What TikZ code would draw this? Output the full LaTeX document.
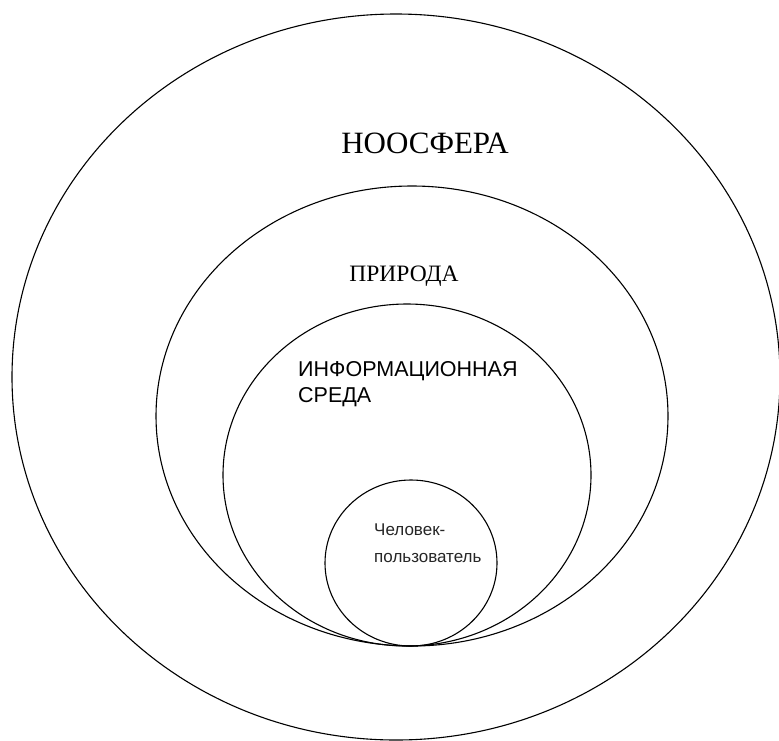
\documentclass[tikz,border=0pt]{standalone}
\usepackage{fontspec}
\setmainfont{Liberation Serif}
\newfontfamily\labsans{Liberation Sans}
\begin{document}
\begin{tikzpicture}[x=1pt,y=-1pt,
  ring/.style={draw=black,line width=1.1pt},
  big/.style={font=\fontsize{31}{36}\selectfont},
  mid/.style={font=\fontsize{23.5}{28}\selectfont},
  sml/.style={font=\labsans\fontsize{21.5}{25.5}\selectfont,align=left,inner sep=0pt},
  tiny/.style={font=\labsans\fontsize{17}{27}\selectfont,align=left,inner sep=0pt,text=black!85}]
\useasboundingbox (0,0) rectangle (779,740);
\fill[white] (0,0) rectangle (779,740);
\draw[ring] (396,377) ellipse [x radius=384, y radius=363];
\draw[ring] (412,416) ellipse [x radius=256, y radius=230];
\draw[ring] (407,475) ellipse [x radius=184, y radius=171];
\draw[ring] (411,563) ellipse [x radius=86, y radius=83];
\node[big] (noos) at (425,143) {НООСФЕРА};
\node[mid] (prir) at (404,276) {ПРИРОДА};
\node[sml,anchor=base west] (info) at (298,402) {ИНФОРМАЦИОННАЯ\\СРЕДА};
\node[tiny,anchor=base west] (user) at (374,562) {Человек-\\пользователь};
\end{tikzpicture}
\end{document}
